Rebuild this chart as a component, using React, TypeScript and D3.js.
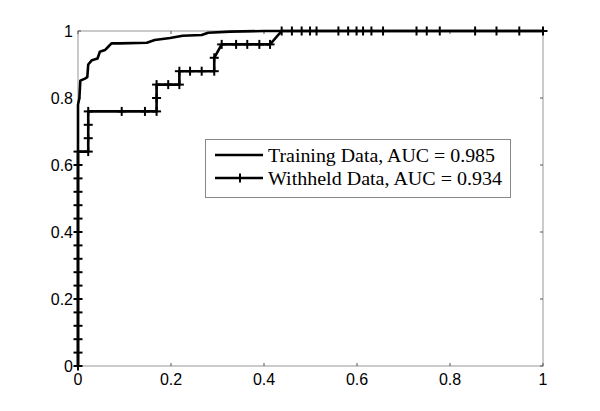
import React from "react";
import * as d3 from "d3";

const xTicks = [0, 0.2, 0.4, 0.6, 0.8, 1];
const yTicks = [0, 0.2, 0.4, 0.6, 0.8, 1];
const xTickLabels = ["0", "0.2", "0.4", "0.6", "0.8", "1"];
const yTickLabels = ["0", "0.2", "0.4", "0.6", "0.8", "1"];

const trainingFPR = [0, 0, 0.003, 0.005, 0.015, 0.02, 0.022, 0.03, 0.042, 0.047, 0.058, 0.065, 0.072, 0.09, 0.148, 0.165, 0.198, 0.21, 0.225, 0.266, 0.28, 0.327, 0.4, 1];
const trainingTPR = [0, 0.78, 0.8, 0.852, 0.858, 0.862, 0.9, 0.913, 0.918, 0.938, 0.943, 0.953, 0.963, 0.963, 0.965, 0.973, 0.979, 0.982, 0.986, 0.988, 0.995, 0.998, 1, 1];

const withheldFPR = [0, 0, 0, 0, 0, 0, 0, 0, 0, 0, 0, 0, 0, 0, 0, 0, 0,
  0.022, 0.022, 0.022, 0.022,
  0.094, 0.144, 0.169, 0.169, 0.169,
  0.194, 0.218, 0.218, 0.241, 0.266, 0.293, 0.293,
  0.309, 0.34, 0.364, 0.39, 0.413,
  0.438, 0.46, 0.481, 0.499, 0.513, 0.56, 0.581, 0.599, 0.613, 0.631, 0.656, 0.728, 0.75, 0.778, 0.854, 0.9, 0.949, 1];
const withheldTPR = [0, 0.04, 0.08, 0.12, 0.16, 0.2, 0.24, 0.28, 0.32, 0.36, 0.4, 0.44, 0.48, 0.52, 0.56, 0.6, 0.64,
  0.64, 0.68, 0.72, 0.76,
  0.76, 0.76, 0.76, 0.8, 0.84,
  0.84, 0.84, 0.88, 0.88, 0.88, 0.88, 0.92,
  0.96, 0.96, 0.96, 0.96, 0.96,
  1, 1, 1, 1, 1, 1, 1, 1, 1, 1, 1, 1, 1, 1, 1, 1, 1, 1];

const legendLabels = ["Training Data, AUC = 0.985", "Withheld Data, AUC = 0.934"];

export default function App() {
  const W = 600, H = 411;
  const x = d3.scaleLinear().domain([0, 1]).range([78, 543]);
  const y = d3.scaleLinear().domain([0, 1]).range([366, 31]);
  const line = d3.line<[number, number]>().x(d => x(d[0])).y(d => y(d[1]));
  const train: [number, number][] = trainingFPR.map((v, i) => [v, trainingTPR[i]]);
  const held: [number, number][] = withheldFPR.map((v, i) => [v, withheldTPR[i]]);
  const axisColor = "#a8a8a8";
  const ms = 4.5;
  const plus = (cx: number, cy: number, k: string) => (
    <g key={k}>
      <line x1={cx - ms} x2={cx + ms} y1={cy} y2={cy} stroke="#000" strokeWidth={2} />
      <line x1={cx} x2={cx} y1={cy - ms} y2={cy + ms} stroke="#000" strokeWidth={2} />
    </g>
  );
  const [x0, x1] = x.range();
  const [y0, y1] = y.range();
  return (
    <svg width={W} height={H} style={{ position: "absolute", left: 0, top: 0, background: "#fff" }}>
      <rect x={0} y={0} width={W} height={H} fill="#fff" />
      {/* axes box */}
      <rect x={x0} y={y1} width={x1 - x0} height={y0 - y1} fill="none" stroke={axisColor} strokeWidth={1.2} />
      {xTicks.map((t, i) => (
        <g key={"xt" + i}>
          <line x1={x(t)} x2={x(t)} y1={y0} y2={y0 - 3} stroke="#555" strokeWidth={1} />
          <line x1={x(t)} x2={x(t)} y1={y1} y2={y1 + 3} stroke="#555" strokeWidth={1} />
          <text x={x(t)} y={y0 + 19} textAnchor="middle" fontFamily="Liberation Sans, Arial, sans-serif" fontSize={16} fill="#000">{xTickLabels[i]}</text>
        </g>
      ))}
      {yTicks.map((t, i) => (
        <g key={"yt" + i}>
          <line x1={x1} x2={x1 - 3} y1={y(t)} y2={y(t)} stroke="#555" strokeWidth={1} />
          <line x1={x0} x2={x0 + 3} y1={y(t)} y2={y(t)} stroke="#555" strokeWidth={1} />
          <text x={x0 - 5} y={y(t) + 6} textAnchor="end" fontFamily="Liberation Sans, Arial, sans-serif" fontSize={16} fill="#000">{yTickLabels[i]}</text>
        </g>
      ))}
      <path d={line(train) || ""} fill="none" stroke="#000" strokeWidth={2.6} strokeLinejoin="round" />
      <path d={line(held) || ""} fill="none" stroke="#000" strokeWidth={2.6} strokeLinejoin="round" />
      {held.map((d, i) => plus(x(d[0]), y(d[1]), "m" + i))}
      {/* legend */}
      <rect x={205.5} y={139.5} width={305} height={58} fill="#fff" stroke="#888" strokeWidth={1} />
      <line x1={215} x2={263} y1={155} y2={155} stroke="#000" strokeWidth={2.6} />
      <line x1={215} x2={263} y1={178} y2={178} stroke="#000" strokeWidth={2.6} />
      {plus(240, 178, "legm")}
      <text x={268} y={162} fontFamily="Liberation Serif, Times New Roman, serif" fontSize={19} textLength={227} lengthAdjust="spacingAndGlyphs" fill="#000">{legendLabels[0]}</text>
      <text x={268} y={185} fontFamily="Liberation Serif, Times New Roman, serif" fontSize={19} textLength={234} lengthAdjust="spacingAndGlyphs" fill="#000">{legendLabels[1]}</text>
    </svg>
  );
}
